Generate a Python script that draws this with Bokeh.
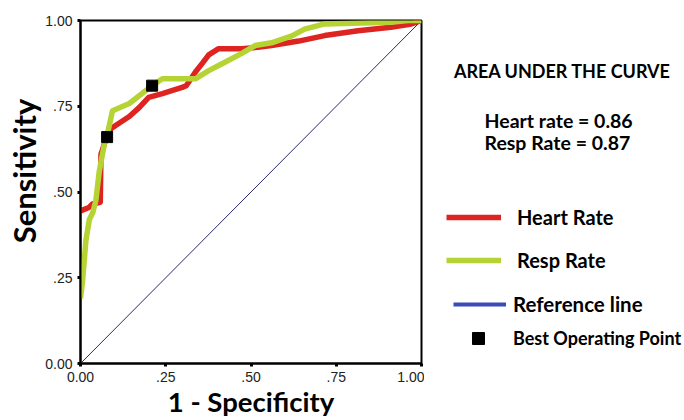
import math
from bokeh.plotting import figure
from bokeh.layouts import row
from bokeh.models import FixedTicker, Label, Legend, LegendItem, Range1d
from bokeh.embed import file_html
from bokeh.resources import INLINE

# ---- data ----
hr_fpr = [0.0, 0.025, 0.035, 0.058, 0.06, 0.075, 0.09, 0.103, 0.143, 0.172, 0.2, 0.24, 0.27,
          0.298, 0.31, 0.337, 0.357, 0.376, 0.405, 0.473, 0.52, 0.56, 0.64, 0.716, 0.814,
          0.91, 0.97, 1.0]
hr_tpr = [0.445, 0.455, 0.465, 0.47, 0.61, 0.655, 0.685, 0.694, 0.72, 0.746, 0.776, 0.787,
          0.796, 0.805, 0.81, 0.85, 0.875, 0.9, 0.918, 0.918, 0.922, 0.927, 0.94, 0.956,
          0.97, 0.98, 0.99, 1.0]

rr_fpr = [0.0, 0.006, 0.016, 0.026, 0.036, 0.045, 0.055, 0.07, 0.078, 0.094, 0.143, 0.18,
          0.21, 0.24, 0.337, 0.376, 0.415, 0.473, 0.512, 0.56, 0.62, 0.657, 0.716, 0.91,
          0.96, 1.0]
rr_tpr = [0.19, 0.24, 0.36, 0.42, 0.44, 0.475, 0.56, 0.64, 0.665, 0.737, 0.758, 0.787,
          0.81, 0.83, 0.83, 0.854, 0.874, 0.904, 0.927, 0.935, 0.955, 0.975, 0.99, 0.995,
          1.0, 1.0]

ref_x = [0.0, 1.0]
ref_y = [0.0, 1.0]

best_fpr = [0.078, 0.21]
best_tpr = [0.66, 0.81]

ticks = [0.0, 0.25, 0.5, 0.75, 1.0]
tick_labels = ["0.00", ".25", ".50", ".75", "1.00"]

auc_title = "AREA UNDER THE CURVE"
auc_lines = ["Heart rate = 0.86", "Resp Rate = 0.87"]

RED = "#de2421"
GREEN = "#b6d334"
NAVY = "#2a2a6a"
BLUE = "#3b4cb8"
BOLD_FONT = "Lato"

H = 420
TOP, BOTTOM = 20, 57          # frame top / bottom borders shared by the row
FY_BOT = H - BOTTOM           # frame bottom in page pixels
YLAB_W = 42
MAIN_W = 36 + 343 + 3
SIDE_W = 684 - YLAB_W - MAIN_W
SX0 = 684 - SIDE_W


def blank(width, x0):
    f = figure(width=width, height=H, x_range=Range1d(x0, x0 + width),
               y_range=Range1d(FY_BOT, TOP), output_backend="svg", toolbar_location=None,
               x_axis_type=None, y_axis_type=None, min_border_left=0, min_border_right=0,
               min_border_top=TOP, min_border_bottom=BOTTOM)
    f.outline_line_color = None
    f.grid.visible = False
    f.background_fill_color = "white"
    f.border_fill_color = "white"
    return f


# ---- left strip: y-axis title ----
ylab = blank(YLAB_W, 0)
ylab.add_layout(Label(x=23, y=170.5, text="Sensitivity", angle=math.pi / 2,
                      text_align="center", text_baseline="middle", text_font=BOLD_FONT,
                      text_font_style="bold", text_font_size="31px", text_color="black"))

# ---- main ROC plot ----
p = figure(width=MAIN_W, height=H, x_range=(0, 1), y_range=(0, 1),
           output_backend="svg", toolbar_location=None,
           min_border_left=36, min_border_right=3, min_border_top=TOP,
           min_border_bottom=BOTTOM)
p.background_fill_color = "white"
p.border_fill_color = "white"
p.outline_line_color = "black"
p.outline_line_width = 2
p.grid.visible = False

for ax in (p.xaxis[0], p.yaxis[0]):
    ax.ticker = FixedTicker(ticks=ticks)
    ax.major_label_overrides = {t: l for t, l in zip(ticks, tick_labels)}
    ax.axis_line_color = "black"
    ax.axis_line_width = 2
    ax.major_tick_in = 0
    ax.major_tick_out = 3
    ax.major_tick_line_width = 3
    ax.major_tick_line_color = "black"
    ax.minor_tick_line_color = None
    ax.major_label_text_font = "Liberation Sans"
    ax.major_label_text_font_size = "14px"
    ax.major_label_text_color = "#222222"
p.xaxis[0].major_label_standoff = 5
p.yaxis[0].major_label_standoff = 5
p.xaxis[0].axis_label = "1 - Specificity"
p.xaxis[0].axis_label_standoff = 0
p.xaxis[0].axis_label_text_font = BOLD_FONT
p.xaxis[0].axis_label_text_font_style = "bold"
p.xaxis[0].axis_label_text_font_size = "27.5px"
p.xaxis[0].axis_label_text_color = "black"

p.line(ref_x, ref_y, line_color=NAVY, line_width=1)
p.line(hr_fpr, hr_tpr, line_color=RED, line_width=5.5, line_join="round")
p.line(rr_fpr, rr_tpr, line_color=GREEN, line_width=5.5, line_join="round")
p.scatter(best_fpr, best_tpr, marker="square", size=11, fill_color="black",
          line_color="black")

# ---- right panel: AUC text and legend ----
side = blank(SIDE_W, SX0)
side.add_layout(Label(x=562, y=70, text=auc_title, text_align="center",
                      text_baseline="middle", text_font=BOLD_FONT, text_font_style="bold",
                      text_font_size="18px", text_color="black"))
for txt, cy in zip(auc_lines, [120, 142]):
    side.add_layout(Label(x=484, y=cy, text=txt, text_align="left",
                          text_baseline="middle", text_font=BOLD_FONT,
                          text_font_style="bold", text_font_size="19.5px",
                          text_color="black"))

# legend-only proxy renderers (a single NaN point: nothing is drawn in the panel)
nan = [float("nan")]
hr_leg = side.line(x=nan, y=nan, line_color=RED, line_width=5.5)
rr_leg = side.line(x=nan, y=nan, line_color=GREEN, line_width=5.5)
ref_leg = side.line(x=nan, y=nan, line_color=BLUE, line_width=4)
best_leg = side.scatter(x=nan, y=nan, marker="square", fill_color="black",
                        line_color="black")


def add_legend(label, renderer, gx, cy, gw, gh, standoff, fsize):
    lg = Legend(items=[LegendItem(label=label, renderers=[renderer])],
                location=(gx - SX0, FY_BOT - cy - gh / 2), glyph_width=gw, glyph_height=gh,
                label_height=gh, label_standoff=standoff, padding=0, margin=0, spacing=0,
                border_line_alpha=0, background_fill_alpha=0,
                label_text_font=BOLD_FONT, label_text_font_style="bold",
                label_text_font_size=fsize, label_text_color="black")
    side.add_layout(lg, "center")


add_legend("Heart Rate", hr_leg, 446, 219, 55, 20, 16, "20px")
add_legend("Resp Rate", rr_leg, 446, 262, 55, 20, 16, "20px")
add_legend("Reference line", ref_leg, 453, 306, 53, 20, 7, "20.5px")
add_legend("Best Operating Point", best_leg, 463, 338, 30, 30, 20, "18px")

layout = row(ylab, p, side, spacing=0)
open("out.html", "w").write(file_html(layout, INLINE))
